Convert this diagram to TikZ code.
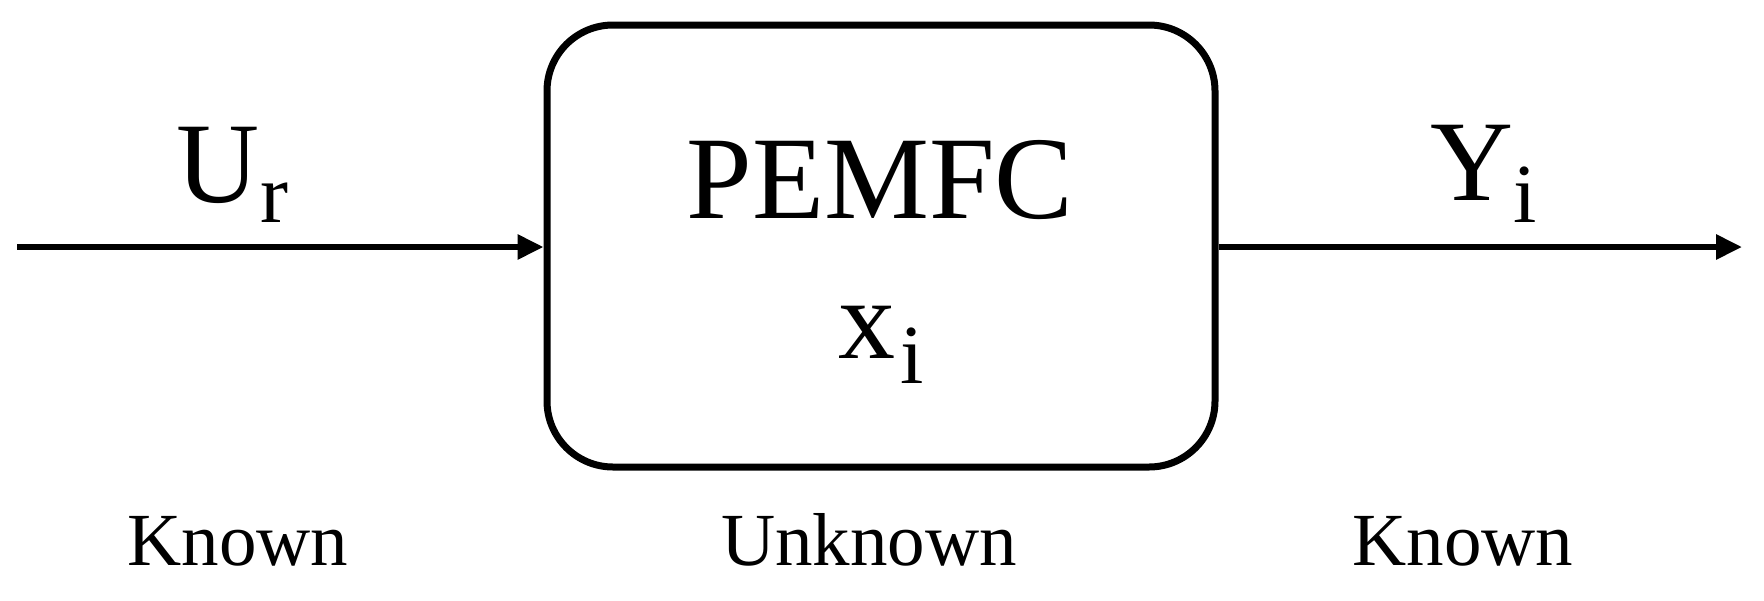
\documentclass[tikz,border=0pt]{standalone}
\usepackage{fontspec}
\setmainfont{Liberation Serif}
\usetikzlibrary{arrows.meta}
\newcommand{\subtxt}[3]{\kern#2\raisebox{-#3}{\fontsize{84}{84}\selectfont #1}}
\begin{document}
\begin{tikzpicture}[x=1pt,y=-1pt,
  line/.style={line width=6pt,-{Triangle[length=26pt,width=24pt]}},
  sym/.style={font=\fontsize{115}{125}\selectfont, inner sep=0pt, anchor=base west},
  lab/.style={font=\fontsize{75}{80}\selectfont, inner sep=0pt, anchor=base},
  sysbox/.style={draw, line width=7pt, rounded corners=66pt, minimum width=668pt, minimum height=442pt, inner sep=0pt}]
\useasboundingbox (0,0) rectangle (1764,600);
\node[sysbox] (box) at (881,246) {};
\coordinate (in) at (17,247);
\coordinate (out) at (1742,247);
\draw[line] (in) -- (in -| box.west);
\draw[line] (box.east |- out) -- (out);
\node[sym] (ur) at (176,202) {U\subtxt{r}{1pt}{20pt}};
\node[sym, font=\fontsize{118}{130}\selectfont, anchor=base] (pemfc) at (880,218) {PEMFC};
\node[sym, font=\fontsize{114}{125}\selectfont] (xi) at (838,358) {x\subtxt{i}{5pt}{25pt}};
\node[sym] (yi) at (1430,200) {Y\subtxt{i}{0pt}{22pt}};
\node[lab] (k1) at (238,565) {Known};
\node[lab] (uk) at (869,565) {Unknown};
\node[lab] (k2) at (1463,565) {Known};
\end{tikzpicture}
\end{document}
